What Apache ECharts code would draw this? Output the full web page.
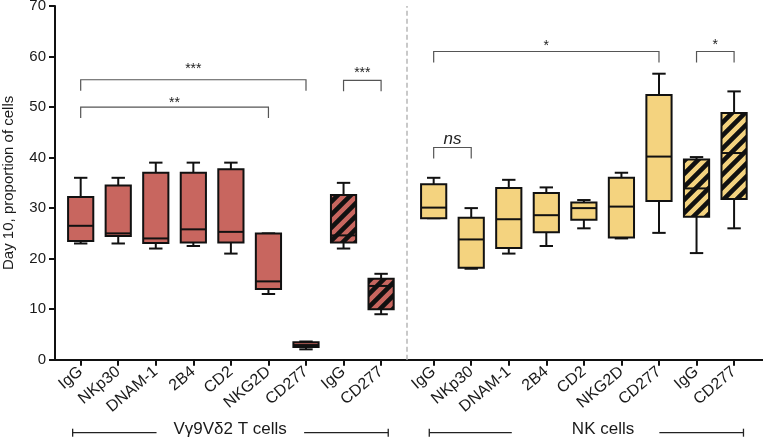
<!DOCTYPE html>
<html><head><meta charset="utf-8">
<script src="https://cdn.jsdelivr.net/npm/echarts@6/dist/echarts.min.js"></script>
<style>html,body{margin:0;padding:0;background:#fff}#c{width:763px;height:438px}</style>
</head><body><div id="c"></div>
<script>
// ---------- data ----------
const categories = ['IgG','NKp30','DNAM-1','2B4','CD2','NKG2D','CD277','IgG','CD277'];
const hatched = [false,false,false,false,false,false,false,true,true];
const groupNames = ['V\u03b39V\u03b42 T cells','NK cells'];
// each box: [min, Q1, median, Q3, max]
const tcellBoxes = [
  [23.0, 23.5, 26.5, 32.2, 36.0],
  [23.0, 24.5, 25.0, 34.5, 36.0],
  [22.0, 23.1, 24.0, 37.0, 39.0],
  [22.5, 23.2, 25.8, 37.0, 39.0],
  [21.0, 23.2, 25.3, 37.7, 39.0],
  [13.0, 14.0, 15.5, 25.0, 25.0],
  [2.05, 2.5, 2.9, 3.45, 3.6],
  [22.0, 23.2, 24.6, 32.6, 35.0],
  [9.0, 10.0, 14.6, 16.0, 17.0]
];
const nkBoxes = [
  [28.0, 28.0, 30.1, 34.7, 36.0],
  [18.0, 18.2, 23.8, 28.1, 30.0],
  [21.0, 22.1, 27.8, 34.0, 35.6],
  [22.5, 25.2, 28.6, 33.0, 34.1],
  [26.0, 27.7, 30.0, 31.1, 31.6],
  [24.0, 24.2, 30.3, 36.0, 37.0],
  [25.1, 31.4, 40.2, 52.4, 56.6],
  [21.1, 28.3, 33.9, 39.6, 40.1],
  [26.0, 31.8, 40.9, 48.8, 53.1]
];
// significance brackets: [group, fromIndex, toIndex, bracket height, label height, label]
const sigTests = [
  [0, 0, 6, 55.4, 58.2, '***'],
  [0, 0, 5, 50.0, 51.4, '**'],
  [0, 7, 8, 55.3, 57.5, '***'],
  [1, 0, 6, 61.0, 62.7, '*'],
  [1, 7, 8, 61.0, 63.0, '*'],
  [1, 0, 1, 42.0, 43.5, 'ns']
];
const yTicks = [0, 10, 20, 30, 40, 50, 60, 70];

// ---------- layout (x axis in slot units) ----------
const groupStart = [0.684, 10.084];
const dividerAt = 9.364;
const xMin = 0, xMax = 18.854;
const FONT = 'Liberation Sans, Arial, Helvetica, sans-serif';
const colors = ['#c8665f', '#f4d37f'];

const positions = [];
const posLabels = [];
groupStart.forEach(g => categories.forEach((c, i) => { positions.push(+(g + i).toFixed(3)); posLabels.push(c); }));
function labelFor(v) {
  for (let i = 0; i < positions.length; i++) if (Math.abs(positions[i] - v) < 1e-3) return posLabels[i];
  return '';
}

function makePattern(bg) {
  const s = 13;
  const cv = document.createElement('canvas');
  cv.width = s; cv.height = s;
  const ctx = cv.getContext('2d');
  ctx.fillStyle = bg; ctx.fillRect(0, 0, s, s);
  ctx.strokeStyle = '#111'; ctx.lineWidth = 4.6; ctx.lineCap = 'butt';
  ctx.beginPath();
  for (let k = -1; k <= 3; k++) {
    ctx.moveTo(-s, k * s + s); ctx.lineTo(k * s + s, -s);
  }
  ctx.stroke();
  return { image: cv, repeat: 'repeat' };
}
const patterns = colors.map(makePattern);

function boxData(g, boxes) {
  return boxes.map((b, i) => [+(groupStart[g] + i).toFixed(3)].concat(b).concat([hatched[i] ? 1 : 0]));
}

function renderBox(g) {
  return function (params, api) {
    const x = api.value(0);
    const mn = api.coord([x, api.value(1)]);
    const q1 = api.coord([x, api.value(2)]);
    const md = api.coord([x, api.value(3)]);
    const q3 = api.coord([x, api.value(4)]);
    const mx = api.coord([x, api.value(5)]);
    const h = api.value(6);
    const hw = 12.6, cw = 6.7, cx = q1[0];
    const ls = { stroke: '#111', lineWidth: 2, fill: null };
    return {
      type: 'group',
      children: [
        { type: 'line', shape: { x1: cx, y1: mx[1], x2: cx, y2: q3[1] }, style: ls },
        { type: 'line', shape: { x1: cx - cw, y1: mx[1], x2: cx + cw, y2: mx[1] }, style: ls },
        { type: 'line', shape: { x1: cx, y1: q1[1], x2: cx, y2: mn[1] }, style: ls },
        { type: 'line', shape: { x1: cx - cw, y1: mn[1], x2: cx + cw, y2: mn[1] }, style: ls },
        { type: 'rect', shape: { x: cx - hw, y: q3[1], width: hw * 2, height: q1[1] - q3[1] },
          style: { fill: h ? patterns[g] : colors[g], stroke: '#111', lineWidth: 2 } },
        { type: 'line', shape: { x1: cx - hw, y1: md[1], x2: cx + hw, y2: md[1] }, style: ls }
      ]
    };
  };
}

const sigData = sigTests.map(s => [groupStart[s[0]] + s[1], groupStart[s[0]] + s[2], s[3], s[4], s[5]]);

const chart = echarts.init(document.getElementById('c'), null, { renderer: 'canvas' });
chart.setOption({
  animation: false,
  backgroundColor: '#fff',
  grid: { left: 55, right: 0, top: 6, bottom: 78.3, containLabel: false, outerBoundsMode: 'none' },
  xAxis: {
    type: 'value', min: xMin, max: xMax,
    axisLine: { show: true, lineStyle: { color: '#111', width: 2 } },
    axisTick: { show: true, length: 6, lineStyle: { color: '#111', width: 2 }, customValues: positions },
    axisLabel: { customValues: positions, rotate: 40, margin: 10, fontSize: 16, fontFamily: FONT, color: '#1a1a1a',
      formatter: v => labelFor(v) },
    splitLine: { show: false }
  },
  yAxis: {
    type: 'value', min: 0, max: 70, interval: 10,
    name: 'Day 10, proportion of cells', nameLocation: 'middle', nameGap: 39,
    nameTextStyle: { fontSize: 15, fontFamily: FONT, color: '#1a1a1a' },
    axisLine: { show: true, lineStyle: { color: '#111', width: 2 } },
    axisTick: { show: true, length: 6, lineStyle: { color: '#111', width: 2 } },
    axisLabel: { margin: 9, fontSize: 15, fontFamily: FONT, color: '#1a1a1a',
      formatter: v => yTicks.indexOf(v) >= 0 ? String(v) : '' },
    splitLine: { show: false }
  },
  series: [
    { type: 'custom', name: groupNames[0], data: boxData(0, tcellBoxes), renderItem: renderBox(0),
      encode: { x: 0, y: [1, 2, 3, 4, 5] }, z: 3,
      markLine: { silent: true, symbol: 'none', label: { show: false },
        lineStyle: { color: '#b8b8b8', width: 1.5, type: [5, 3] }, data: [{ xAxis: dividerAt }] } },
    { type: 'custom', name: groupNames[1], data: boxData(1, nkBoxes), renderItem: renderBox(1),
      encode: { x: 0, y: [1, 2, 3, 4, 5] }, z: 3 },
    { type: 'custom', name: 'sig', data: sigData, clip: false, z: 4,
      encode: { x: [0, 1], y: [2, 3] },
      renderItem: function (params, api) {
        const a = api.coord([api.value(0), api.value(2)]);
        const b = api.coord([api.value(1), api.value(2)]);
        const t = api.coord([(api.value(0) + api.value(1)) / 2, api.value(3)]);
        const lab = sigTests[params.dataIndex][5];
        const ns = lab === 'ns';
        const leg = 11;
        return {
          type: 'group',
          children: [
            { type: 'polyline', shape: { points: [[a[0], a[1] + leg], [a[0], a[1]], [b[0], b[1]], [b[0], b[1] + leg]] },
              style: { stroke: '#555', lineWidth: 1.2, fill: null } },
            { type: 'text', x: t[0], y: ns ? t[1] - 1 : t[1] + 3.5,
              style: { text: lab, align: 'center', verticalAlign: 'middle', fill: '#222',
                font: (ns ? 'italic 17px ' : '14px ') + FONT } }
          ]
        };
      } }
  ]
});

// group labels under the axis
const groupBars = [
  // [group, line start, gap start, gap end, line end, text center] in axis units
  [0, 0.47, 2.704, 6.634, 8.874, 4.664],
  [1, 9.967, 12.164, 16.094, 18.334, 14.594]
];
const gy = 432.7;
const graphics = [];
groupBars.forEach(gb => {
  const px = v => chart.convertToPixel({ xAxisIndex: 0 }, v);
  const x0 = px(gb[1]), x1 = px(gb[2]), x2 = px(gb[3]), x3 = px(gb[4]), xt = px(gb[5]);
  const st = { stroke: '#222', lineWidth: 1.3 };
  graphics.push({ type: 'line', shape: { x1: x0, y1: gy, x2: x1, y2: gy }, style: st });
  graphics.push({ type: 'line', shape: { x1: x2, y1: gy, x2: x3, y2: gy }, style: st });
  graphics.push({ type: 'line', shape: { x1: x0, y1: gy - 4, x2: x0, y2: gy + 4 }, style: st });
  graphics.push({ type: 'line', shape: { x1: x3, y1: gy - 4, x2: x3, y2: gy + 4 }, style: st });
  graphics.push({ type: 'text', x: xt, y: gy - 3,
    style: { text: groupNames[gb[0]], align: 'center', verticalAlign: 'middle', fill: '#1a1a1a', font: '17px ' + FONT } });
});
chart.setOption({ graphic: graphics });
</script>
</body></html>
